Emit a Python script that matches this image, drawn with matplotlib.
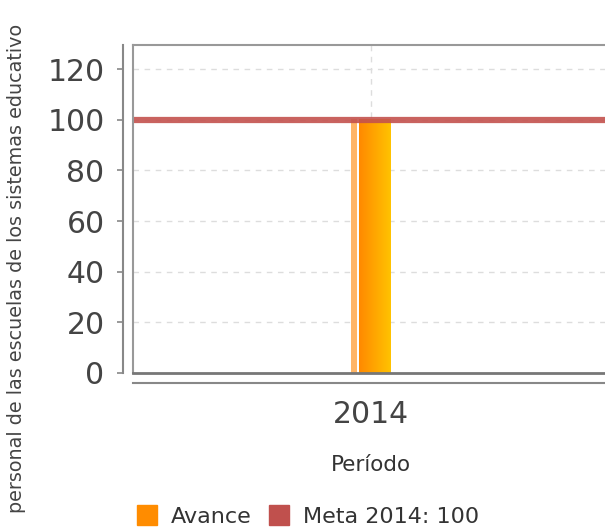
import numpy as np
import matplotlib
matplotlib.use('Agg')
import matplotlib.pyplot as plt
from matplotlib.patches import Patch
from matplotlib.colors import to_rgb

# data
periodos = ['2014']
avance = [100]
meta = 100
meta_label = 'Meta 2014: 100'
y_ticks = [0, 20, 40, 60, 80, 100, 120]
y_title = 'personal de las escuelas de los sistemas educativo'

txt = '#444444'
frame = '#999999'

fig = plt.figure(figsize=(6.05, 5.3), dpi=100)
ax = fig.add_axes([133 / 605, 1 - 373 / 530, 476 / 605, 328 / 530])

x = np.arange(len(periodos))
bars = ax.bar(x, avance, width=40 / 476, color='none', zorder=2)

# gradient fill per bar: light strip, white gap, orange -> yellow
c1 = np.array(to_rgb('#FF8A00'))
c2 = np.array(to_rgb('#FFC200'))
cols = [to_rgb('#FFB566')] * 6 + [(1, 1, 1)] * 2
cols += [tuple(c1 + (c2 - c1) * t) for t in np.linspace(0, 1, 32)]
grad = np.array(cols)[None, :, :]
for b in bars:
    ax.imshow(grad, extent=(b.get_x(), b.get_x() + b.get_width(), 0, b.get_height()),
              aspect='auto', interpolation='nearest', zorder=2)

ax.axhline(meta, color='#C4524E', lw=4.5, alpha=0.9, zorder=3)

ax.set_xlim(-0.5, len(periodos) - 0.5)
ax.set_ylim(0, 129.5)
ax.set_yticks(y_ticks)
ax.set_xticks(x)
ax.set_xticklabels(periodos)

ax.grid(True, color='#dddddd', ls=(0, (4, 4)), lw=1)
ax.set_axisbelow(True)

for s in ['top', 'right']:
    ax.spines[s].set_color(frame)
    ax.spines[s].set_linewidth(1.5)
ax.spines['left'].set_position(('outward', 7.2))
ax.spines['bottom'].set_position(('outward', 7.2))
ax.spines['left'].set_color('#888888')
ax.spines['bottom'].set_color('#888888')
ax.spines['left'].set_linewidth(1.5)
ax.spines['bottom'].set_linewidth(1.5)
# inner frame edges
ax.plot([0, 0], [0, 1], transform=ax.transAxes, color=frame, lw=1.5, clip_on=False, zorder=4)
ax.plot([0, 1], [0, 0], transform=ax.transAxes, color='#777777', lw=2, clip_on=False, zorder=4)

ax.tick_params(axis='y', length=4.3, width=1.2, color='#888888', labelsize=21.5,
               labelcolor=txt, pad=9)
ax.tick_params(axis='x', length=0, labelsize=21.5, labelcolor=txt, pad=12)

fig.text(371 / 605, 1 - 465 / 530, 'Período', ha='center', va='center',
         fontsize=15.5, color='#333333')
fig.text(17 / 605, 1 - 513 / 530, y_title, rotation=90, ha='center', va='bottom',
         fontsize=13.8, color=txt)

handles = [Patch(color='#FF8C00'), Patch(color='#C0504D')]
fig.legend(handles, ['Avance', meta_label], loc='center', ncol=2,
           bbox_to_anchor=(308 / 605, 1 - 516 / 530), frameon=False,
           fontsize=16, handlelength=0.9, handleheight=1.0, handletextpad=0.6,
           columnspacing=0.8, labelcolor='#333333', borderpad=0.2)

fig.savefig('out.png', dpi=100)
